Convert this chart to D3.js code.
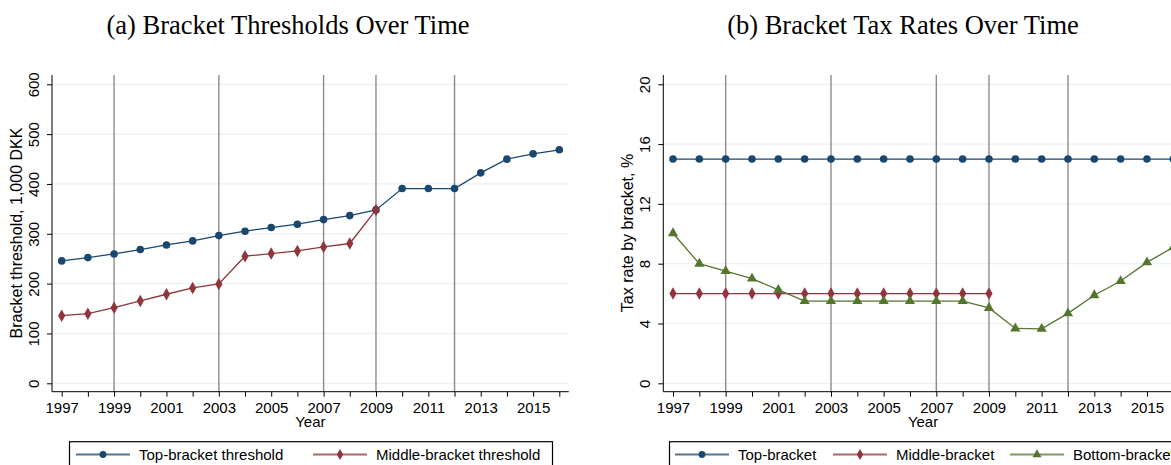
<!DOCTYPE html>
<html>
<head>
<meta charset="utf-8">
<script src="https://cdn.jsdelivr.net/npm/d3@7"></script>
<style>
  body { margin: 0; background: #fff; }
  svg { display: block; }
</style>
</head>
<body>
<script>
// data
const years = [1997, 1998, 1999, 2000, 2001, 2002, 2003, 2004, 2005, 2006,
  2007, 2008, 2009, 2010, 2011, 2012, 2013, 2014, 2015, 2016]
const yearLabels = [1997, 1999, 2001, 2003, 2005, 2007, 2009, 2011, 2013, 2015]
const reformYears = [1999, 2003, 2007, 2009, 2012]

const topThreshold = [245.6, 252.2, 259.6, 268.4, 277.7, 285.8, 296.4, 305.2, 312.6, 319.3,
  328.5, 336.5, 348, 390.8, 390.8, 390.8, 422.3, 449.8, 460.4, 468.5]
const middleThreshold = [135.7, 139.8, 151.8, 165.3, 178.7, 191.4, 199.4, 255, 260.3, 265.7,
  273.7, 280.5, 348]

const topRate = [15, 15, 15, 15, 15, 15, 15, 15, 15, 15, 15, 15, 15, 15, 15, 15, 15, 15, 15, 15]
const middleRate = [6, 6, 6, 6, 6, 6, 6, 6, 6, 6, 6, 6, 6]
const bottomRate = [10.04, 8, 7.5, 7, 6.25, 5.5, 5.5, 5.5, 5.5, 5.5,
  5.5, 5.5, 5.04, 3.67, 3.64, 4.68, 5.89, 6.84, 8.09, 9.1]

const thresholdTicks = [0, 100, 200, 300, 400, 500, 600]
const rateTicks = [0, 4, 8, 12, 16, 20]

let width = 1171
let height = 465
let fontSize = 15

const blue = '#1a476f'
const red = '#90353b'
const green = '#55752f'

const svg = d3.select('body').append('svg')
  .attr('width', width)
  .attr('height', height)
  .style('font-family', '"Liberation Sans", Arial, sans-serif')

function drawPanel(p) {
  const g = svg.append('g')

  const x = d3.scaleLinear().domain([1997, 2016]).range(p.xRange)
  const y = d3.scaleLinear().domain(p.yDomain).range([383.3, 84.3])

  const left = p.xRange[0] - 9.7
  const right = p.xRange[1] + 9.5
  const top = 75
  const bottom = 391.7

  // grid
  g.selectAll('.grid')
    .data(p.yTicks)
    .enter().append('line')
    .attr('x1', left).attr('x2', right)
    .attr('y1', d => y(d)).attr('y2', d => y(d))
    .attr('stroke', '#eaf2f3')
    .attr('stroke-width', 1.2)

  // reform lines
  g.selectAll('.reform')
    .data(reformYears)
    .enter().append('line')
    .attr('x1', d => x(d)).attr('x2', d => x(d))
    .attr('y1', top).attr('y2', bottom)
    .attr('stroke', '#8c8c8c')
    .attr('stroke-width', 1.4)

  // y axis
  const yAxis = g.append('g')
    .attr('transform', `translate(${left},0)`)
    .call(d3.axisLeft(y).tickValues(p.yTicks).tickSize(5).tickPadding(0).tickFormat(d3.format('d')))
  yAxis.select('.domain').remove()
  yAxis.selectAll('line').attr('stroke', '#000')
  yAxis.selectAll('text')
    .attr('x', null).attr('dy', null)
    .attr('transform', d => `translate(-13.5,0) rotate(-90)`)
    .attr('text-anchor', 'middle')
    .attr('font-size', fontSize)
    .attr('fill', '#000')
  g.append('line')
    .attr('x1', left).attr('x2', left)
    .attr('y1', top).attr('y2', bottom)
    .attr('stroke', '#000')

  // x axis
  const xAxis = g.append('g')
    .attr('transform', `translate(0,${bottom})`)
    .call(d3.axisBottom(x).tickValues(years).tickSize(5).tickFormat(d => yearLabels.includes(d) ? d : ''))
  xAxis.select('.domain').remove()
  xAxis.selectAll('line').attr('stroke', '#000')
  xAxis.selectAll('text')
    .attr('y', 21).attr('dy', null)
    .attr('font-size', fontSize)
    .attr('fill', '#000')
  g.append('line')
    .attr('x1', left).attr('x2', right)
    .attr('y1', bottom).attr('y2', bottom)
    .attr('stroke', '#000')

  g.append('text')
    .attr('x', (left + right) / 2).attr('y', 427)
    .attr('text-anchor', 'middle')
    .attr('font-size', fontSize)
    .text('Year')

  g.append('text')
    .attr('transform', `translate(${left - 30},233) rotate(-90)`)
    .attr('text-anchor', 'middle')
    .attr('font-size', 16)
    .text(p.yTitle)

  g.append('text')
    .attr('x', p.titleX).attr('y', 34)
    .attr('text-anchor', 'middle')
    .attr('font-family', '"Liberation Serif", "Times New Roman", serif')
    .attr('font-size', 26.5)
    .text(p.title)

  const line = d3.line()
    .x((d, i) => x(years[i]))
    .y(d => y(d))

  p.series.forEach(s => {
    g.append('path')
      .datum(s.values)
      .attr('d', line)
      .attr('fill', 'none')
      .attr('stroke', s.color)
      .attr('stroke-width', 1.3)

    g.selectAll(null)
      .data(s.values)
      .enter().append('path')
      .attr('d', d3.symbol().type(s.symbol).size(s.size))
      .attr('transform', (d, i) => `translate(${x(years[i])},${y(d)})`)
      .attr('fill', s.color)
  })

  // legend
  const lg = g.append('g')
  lg.append('rect')
    .attr('x', p.legend.x).attr('y', 441.7)
    .attr('width', p.legend.w).attr('height', 40)
    .attr('fill', '#fff')
    .attr('stroke', '#000')
    .attr('stroke-width', 1.2)

  p.series.forEach((s, i) => {
    const lx = p.legend.items[i]
    lg.append('line')
      .attr('x1', lx).attr('x2', lx + 54)
      .attr('y1', 454.5).attr('y2', 454.5)
      .attr('stroke', s.color)
      .attr('stroke-opacity', 0.75)
      .attr('stroke-width', 1.8)
    lg.append('path')
      .attr('d', d3.symbol().type(s.symbol).size(s.size * 0.8))
      .attr('transform', `translate(${lx + 27},454.5)`)
      .attr('fill', s.color)
    lg.append('text')
      .attr('x', lx + 63).attr('y', 460)
      .attr('font-size', fontSize)
      .text(s.name)
  })
}

drawPanel({
  xRange: [61.7, 559.3],
  yDomain: [0, 600],
  yTicks: thresholdTicks,
  yTitle: 'Bracket threshold, 1,000 DKK',
  title: '(a) Bracket Thresholds Over Time',
  titleX: 288,
  legend: { x: 69.5, w: 483, items: [76, 313] },
  series: [
    { name: 'Top-bracket threshold', values: topThreshold, color: blue, symbol: d3.symbolCircle, size: 45 },
    { name: 'Middle-bracket threshold', values: middleThreshold, color: red, symbol: d3.symbolDiamond, size: 45 }
  ]
})

drawPanel({
  xRange: [673, 1173.3],
  yDomain: [0, 20],
  yTicks: rateTicks,
  yTitle: 'Tax rate by bracket, %',
  title: '(b) Bracket Tax Rates Over Time',
  titleX: 903,
  legend: { x: 669.5, w: 560, items: [675, 833, 1010] },
  series: [
    { name: 'Top-bracket', values: topRate, color: blue, symbol: d3.symbolCircle, size: 45 },
    { name: 'Middle-bracket', values: middleRate, color: red, symbol: d3.symbolDiamond, size: 45 },
    { name: 'Bottom-bracket', values: bottomRate, color: green, symbol: d3.symbolTriangle, size: 45 }
  ]
})
</script>
</body>
</html>
